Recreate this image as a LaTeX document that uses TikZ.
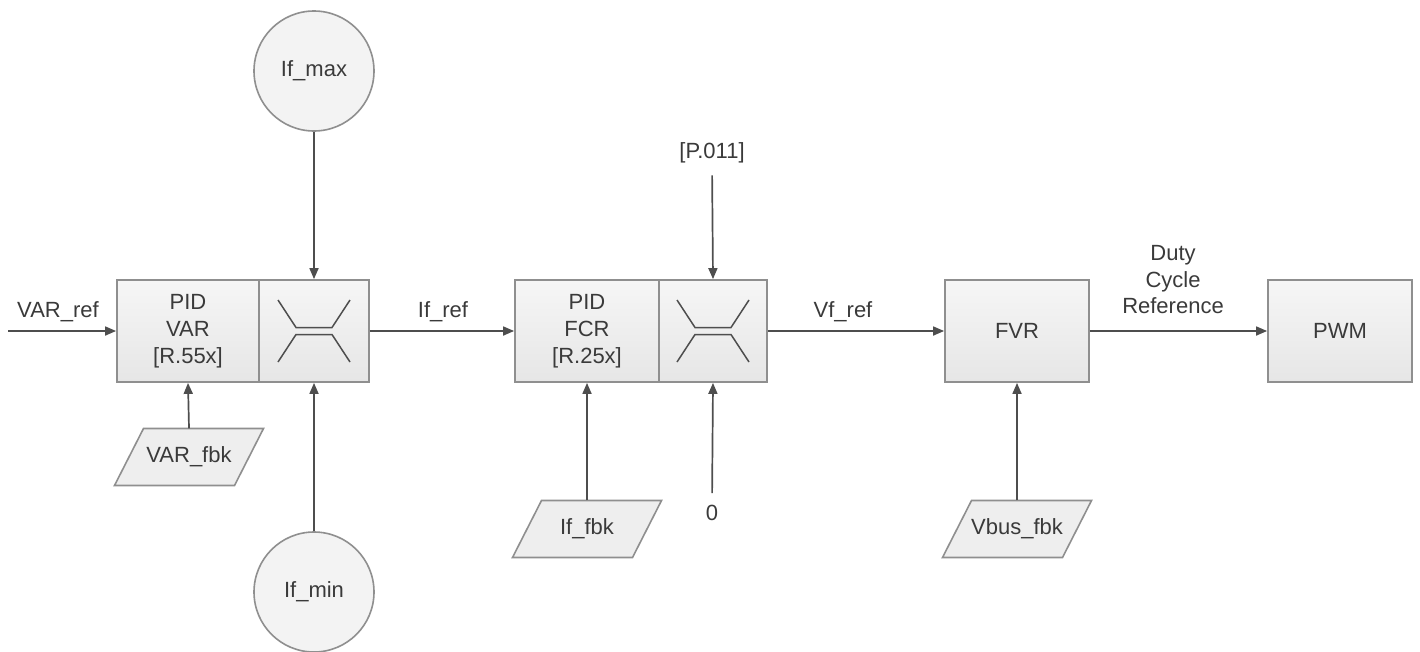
\documentclass[tikz,border=0pt]{standalone}
\usepackage{fontspec}
\setmainfont{Liberation Sans}
\usetikzlibrary{arrows.meta,calc}
\definecolor{bd}{HTML}{8F8F8F}
\definecolor{ln}{HTML}{4E4E4E}
\definecolor{tx}{HTML}{3A3A3A}
\definecolor{fl}{HTML}{EEEEEE}
\definecolor{flt}{HTML}{F6F6F6}
\definecolor{flb}{HTML}{E6E6E6}
\definecolor{cf}{HTML}{F3F3F3}
\begin{document}
\begin{tikzpicture}[x=1pt,y=-1pt,
  txt/.style={text=tx,font=\fontsize{22}{27}\selectfont,align=center,inner sep=0pt},
  blk/.style={txt,draw=bd,line width=1.8pt,top color=flt,bottom color=flb,minimum height=102pt},
  circ/.style={txt,circle,draw=bd,line width=1.6pt,fill=cf,minimum size=120pt},
  pshape/.style={draw=bd,line width=1.6pt,fill=fl},
  sym/.style={draw=ln,line width=1.5pt},
  conn/.style={draw=ln,line width=1.7pt,-{Triangle[length=11pt,width=9pt]}},
  lbl/.style={txt}]
\useasboundingbox (0,0) rectangle (1420,651);
\newcommand\paral[1]{\draw[pshape] ($(#1)+(-45.5,-28.5)$) -- ($(#1)+(74.5,-28.5)$) -- ($(#1)+(45.5,28.5)$) -- ($(#1)+(-74.5,28.5)$) -- cycle;}
\newcommand\limsym[1]{%
  \draw[sym] ($(#1)+(-36,-31)$) -- ($(#1)+(-18,-3.5)$) -- ($(#1)+(18,-3.5)$) -- ($(#1)+(36,-31)$);
  \draw[sym] ($(#1)+(-36,31)$) -- ($(#1)+(-18,3.5)$) -- ($(#1)+(18,3.5)$) -- ($(#1)+(36,31)$);}

% boxes
\node[blk,minimum width=142pt] (pidvar) at (188,331) {PID\\VAR\\{[}R.55x{]}};
\node[blk,minimum width=110pt] (lima) at (314,331) {};
\limsym{lima}
\node[blk,minimum width=144pt] (pidfcr) at (587,331) {PID\\FCR\\{[}R.25x{]}};
\node[blk,minimum width=108pt] (limb) at (713,331) {};
\limsym{limb}
\node[blk,minimum width=144pt] (fvr) at (1017,331) {FVR};
\node[blk,minimum width=144pt] (pwm) at (1340,331) {PWM};

% circles
\node[circ] (ifmax) at (314,71) {If\_max};
\node[circ] (ifmin) at (314,592) {If\_min};

% parallelograms
\coordinate (c1) at (189,457);
\paral{c1}
\node[txt,minimum height=57pt,minimum width=120pt] (varfbk) at (c1) {VAR\_fbk};
\coordinate (c2) at (587,529);
\paral{c2}
\node[txt,minimum height=57pt,minimum width=120pt] (iffbk) at (c2) {If\_fbk};
\coordinate (c3) at (1017,529);
\paral{c3}
\node[txt,minimum height=57pt,minimum width=120pt] (vbusfbk) at (c3) {Vbus\_fbk};

% labels
\node[lbl] (p011) at (712,153) {[P.011]};
\node[lbl] (zero) at (712,513) {0};
\node[lbl] (varref) at (58,312) {VAR\_ref};
\node[lbl] (ifref) at (443,312) {If\_ref};
\node[lbl] (vfref) at (843,312) {Vf\_ref};
\node[lbl,font=\fontsize{22}{26.5}\selectfont] (duty) at (1173,280) {Duty\\Cycle\\Reference};
\coordinate (vin) at (8,331);

% connectors
\draw[conn] (vin) -- (pidvar.west);
\draw[conn] (ifmax.south) -- (lima.north);
\draw[conn] (ifmin.north) -- (lima.south);
\draw[conn] (varfbk.north) -- (pidvar.south);
\draw[conn] (lima.east) -- (pidfcr.west);
\draw[conn,shorten <=12pt] (p011.south) -- (limb.north);
\draw[conn,shorten <=12pt] (zero.north) -- (limb.south);
\draw[conn] (iffbk.north) -- (pidfcr.south);
\draw[conn] (limb.east) -- (fvr.west);
\draw[conn] (vbusfbk.north) -- (fvr.south);
\draw[conn] (fvr.east) -- (pwm.west);
\end{tikzpicture}
\end{document}
